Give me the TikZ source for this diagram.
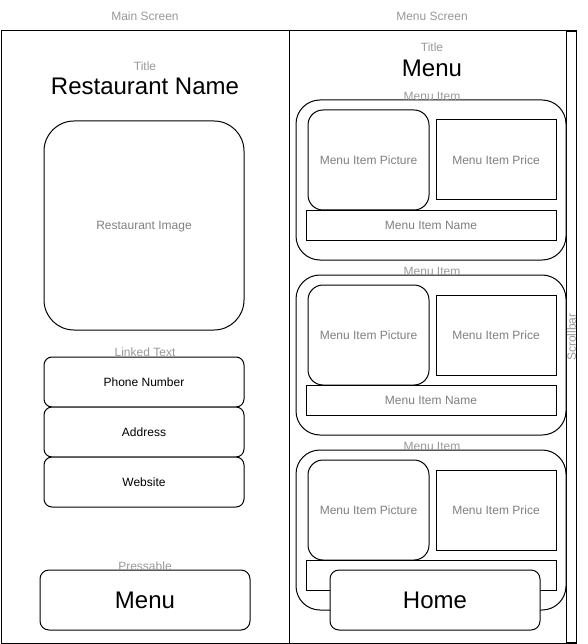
\documentclass[tikz,border=0pt]{standalone}
\usepackage{fontspec}
\setmainfont{Liberation Sans}
\begin{document}
\begin{tikzpicture}[x=1pt,y=-1pt,
  lbl/.style={text=labelgray, inner sep=0pt, font=\fontsize{12}{14}\selectfont, text height=8.6pt, text depth=0pt},
  big/.style={inner sep=0pt, font=\fontsize{24}{28}\selectfont, text height=17.2pt, text depth=0pt},
  rbox/.style={draw=black, line width=1pt, inner sep=0pt, fill=white},
  intext/.style={text=innergray, font=\fontsize{12}{14}\selectfont, text height=8.6pt, text depth=0pt},
  blacktext/.style={text=black, font=\fontsize{12}{14}\selectfont, text height=8.6pt, text depth=0pt}]
\definecolor{labelgray}{HTML}{999999}
\definecolor{innergray}{HTML}{808080}
\useasboundingbox (0,0) rectangle (587,644);
\fill[white] (0,0) rectangle (587,644);
% screens
\node[rbox, fill=none, minimum width=288pt, minimum height=612pt] (mainscr) at (145,337) {};
\node[rbox, fill=none, minimum width=287pt, minimum height=612pt] (menuscr) at (432.5,337) {};
\node[rbox, fill=none, minimum width=10pt, minimum height=610pt] (scroll) at (571,337) {};
\node[lbl, rotate=90] (scrolllbl) at (571.5,337) {Scrollbar};
\node[lbl] (mainlbl) at (145,16) {Main Screen};
\node[lbl] (menulbl) at (432,16) {Menu Screen};
% main screen
\node[lbl] (title1) at (145,66) {Title};
\node[big] (rname) at (145,86) {Restaurant Name};
\node[rbox, intext, rounded corners=30pt, minimum width=200pt, minimum height=209pt] (rimg) at (144,225.5) {Restaurant Image};
\node[rbox, blacktext, rounded corners=8pt, minimum width=200pt, minimum height=50pt] (phone) at (144,382) {Phone Number};
\node[rbox, blacktext, rounded corners=8pt, minimum width=200pt, minimum height=50pt] (addr) at (144,432) {Address};
\node[rbox, blacktext, rounded corners=8pt, minimum width=200pt, minimum height=50pt] (web) at (144,482) {Website};
\node[lbl] (linked) at (145,352) {Linked Text};
\node[rbox, big, rounded corners=9pt, minimum width=210pt, minimum height=60pt] (menubtn) at (145,600) {Menu};
\node[lbl] (press) at (145,566) {Pressable};
% menu screen
\node[lbl] (title2) at (432,47) {Title};
\node[big] (menutitle) at (432,68) {Menu};
\foreach \i/\dy in {1/0,2/175,3/350}{
  \node[rbox, rounded corners=24pt, minimum width=270pt, minimum height=160pt] (mi\i) at (431,180+\dy) {};
  \node[lbl] (milbl\i) at (432,96+\dy) {Menu Item};
  \node[rbox, intext, rounded corners=15pt, minimum width=121pt, minimum height=100pt] (pic\i) at (368.5,160+\dy) {Menu Item Picture};
  \node[rbox, intext, minimum width=120pt, minimum height=80pt] (price\i) at (496,160+\dy) {Menu Item Price};
}
\node[rbox, intext, minimum width=250pt, minimum height=30pt] (name1) at (431,225) {Menu Item Name};
\node[rbox, intext, minimum width=250pt, minimum height=30pt] (name2) at (431,400) {Menu Item Name};
\node[rbox, intext, minimum width=250pt, minimum height=30pt] (name3) at (431,575) {};
\node[rbox, big, rounded corners=9pt, minimum width=210pt, minimum height=60pt] (homebtn) at (435,600) {Home};
\end{tikzpicture}
\end{document}
